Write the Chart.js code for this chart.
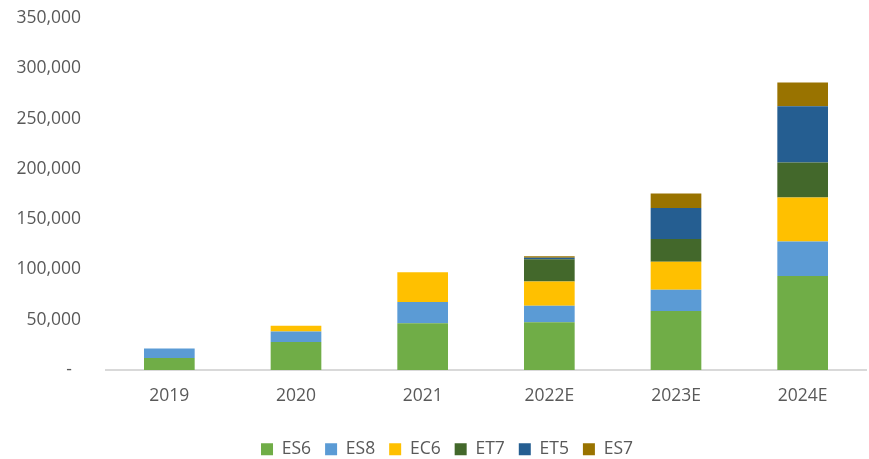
<!DOCTYPE html>
<html>
<head>
<meta charset="utf-8">
<script src="https://cdn.jsdelivr.net/npm/chart.js@4.4.1/dist/chart.umd.min.js"></script>
<style>
  html, body { margin: 0; padding: 0; background: #ffffff; }
  #wrap { width: 869px; height: 459px; }
</style>
</head>
<body>
<div id="wrap"><canvas id="salesChart" width="869" height="459"></canvas></div>
<script>
// Data
const years = ['2019', '2020', '2021', '2022E', '2023E', '2024E'];
const es6 = [12000, 27900, 46600, 47600, 58600, 93500];
const es8 = [9300, 10300, 21000, 16300, 21200, 34200];
const ec6 = [0, 5700, 29600, 24000, 27900, 43900];
const et7 = [0, 0, 0, 22300, 22600, 34600];
const et5 = [0, 0, 0, 1300, 30900, 56100];
const es7 = [0, 0, 0, 1700, 14300, 23600];
const yTicks = [0, 50000, 100000, 150000, 200000, 250000, 300000, 350000];

// Colours
const TEXT_GREY = '#595959';
const AXIS_GREY = '#D9D9D9';
const FONT = "'Open Sans', 'Liberation Sans', sans-serif";

const series = [
    { label: 'ES6', data: es6, color: '#70AD47' },
    { label: 'ES8', data: es8, color: '#5B9BD5' },
    { label: 'EC6', data: ec6, color: '#FFC000' },
    { label: 'ET7', data: et7, color: '#43682B' },
    { label: 'ET5', data: et5, color: '#255E91' },
    { label: 'ES7', data: es7, color: '#997300' }
];

// Excel centres the legend a bit right of the canvas middle
const legendShift = {
    id: 'legendShift',
    afterLayout(chart) {
        chart.legend.left += 14;
        chart.legend.right += 14;
    }
};

const ctx = document.getElementById('salesChart').getContext('2d');

new Chart(ctx, {
    type: 'bar',
    data: {
        labels: years,
        datasets: series.map(s => ({
            label: s.label,
            data: s.data,
            backgroundColor: s.color,
            borderWidth: 0,
            categoryPercentage: 1,
            barPercentage: 0.4
        }))
    },
    plugins: [legendShift],
    options: {
        responsive: false,
        animation: false,
        devicePixelRatio: 1,
        layout: {
            padding: { left: 0, right: 3, top: 18, bottom: -9 }
        },
        plugins: {
            legend: {
                position: 'bottom',
                labels: {
                    boxWidth: 12,
                    boxHeight: 12,
                    padding: 14,
                    color: TEXT_GREY,
                    font: { family: FONT, size: 17.5 }
                }
            },
            tooltip: { enabled: false }
        },
        scales: {
            x: {
                stacked: true,
                afterFit: scale => { scale.height = 56.5; },
                grid: { display: false, drawTicks: false },
                border: { color: AXIS_GREY, width: 2 },
                ticks: {
                    padding: 16,
                    color: TEXT_GREY,
                    font: { family: FONT, size: 17.5 }
                }
            },
            y: {
                stacked: true,
                min: 0,
                max: 350000,
                afterFit: scale => {
                    scale.width = 106;
                    scale.paddingTop = 0;
                    scale.paddingBottom = 0;
                },
                afterBuildTicks: scale => {
                    scale.ticks = yTicks.map(v => ({ value: v }));
                },
                grid: { display: false, drawTicks: false },
                border: { display: false },
                ticks: {
                    padding: 25,
                    color: TEXT_GREY,
                    font: { family: FONT, size: 17.5 },
                    callback: value => value === 0 ? '-  ' : value.toLocaleString('en-US')
                }
            }
        }
    }
});
</script>
</body>
</html>
